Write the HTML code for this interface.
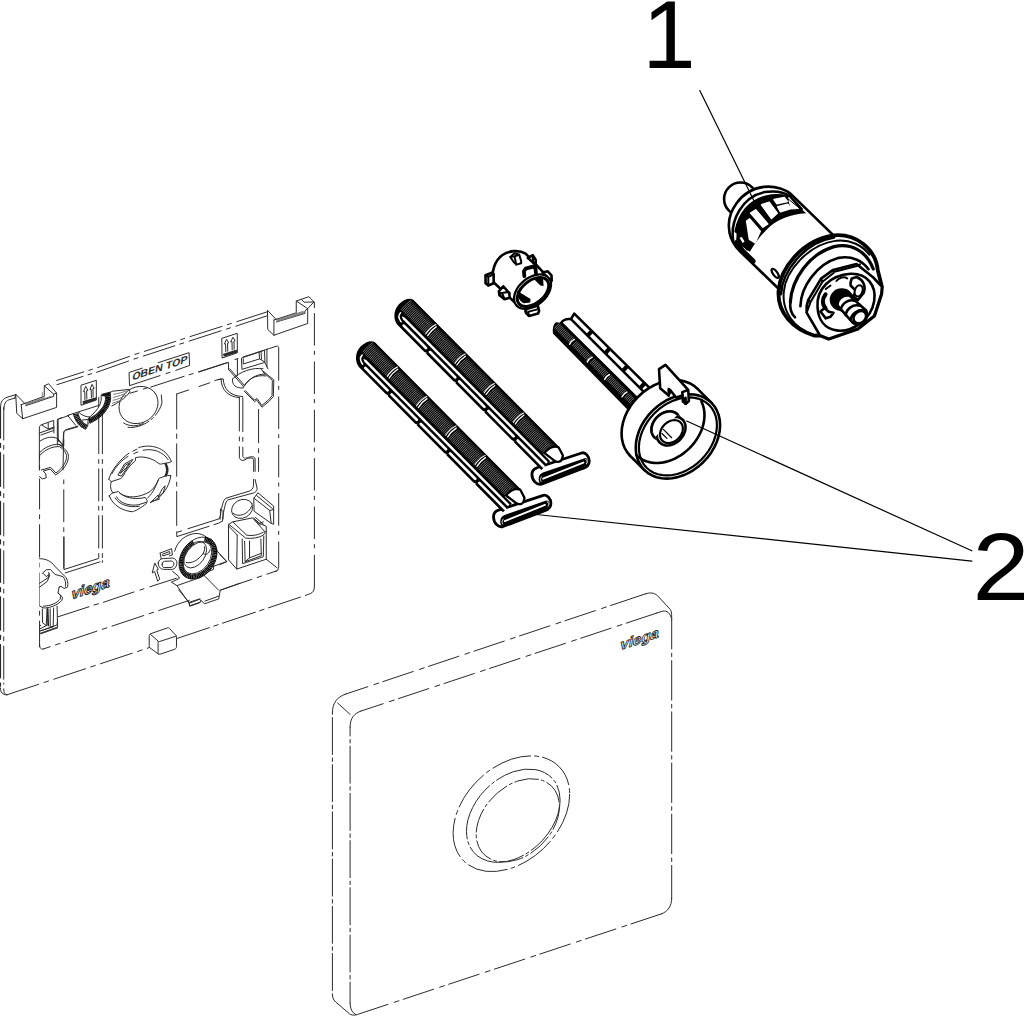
<!DOCTYPE html>
<html><head><meta charset="utf-8"><title>Exploded view</title>
<style>
html,body{margin:0;padding:0;background:#fff;}
body{width:1024px;height:1016px;overflow:hidden;font-family:"Liberation Sans",sans-serif;}
svg{display:block}
svg *{vector-effect:non-scaling-stroke}
.t{fill:none;stroke:#2a2a2a;stroke-width:1;stroke-linecap:round;stroke-linejoin:round}
.tw{fill:#fff;stroke:#2a2a2a;stroke-width:1;stroke-linecap:round;stroke-linejoin:round}
.g{fill:none;stroke:#777;stroke-width:1;stroke-linecap:round;stroke-linejoin:round}
.d{fill:none;stroke:#2a2a2a;stroke-width:1;stroke-dasharray:26 3.5 3 3.5;stroke-linejoin:round}
.m{fill:none;stroke:#000;stroke-width:2;stroke-linecap:round;stroke-linejoin:round}
.mw{fill:#fff;stroke:#000;stroke-width:2;stroke-linecap:round;stroke-linejoin:round}
.h{fill:none;stroke:#000;stroke-width:2.6;stroke-linecap:round;stroke-linejoin:round}
.hw{fill:#fff;stroke:#000;stroke-width:2.6;stroke-linecap:round;stroke-linejoin:round}
.k{fill:#000;stroke:none}
.w{fill:#fff;stroke:none}
.num{font-family:"Liberation Sans",sans-serif;font-size:96px;fill:#000}
</style></head><body>
<svg width="1024" height="1016" viewBox="0 0 1024 1016">
<!-- 10_frame_a.frag -->
<!-- tile [100,300,100] : label + top lines -->
<g transform="translate(100,300) scale(0.098425,0.098425)">
<path class="t" d="M-25 687L300 573M355 553L395 540M450 522L770 420M820 403L860 390M915 372L1240 268M1295 250L1335 238M1390 220L1705 118"/>
<path class="t" d="M-35 735L290 620M345 600L385 588M440 570L760 465M810 448L850 436M905 418L1230 313M1285 295L1325 283M1380 266L1700 160"/>
<!-- label box -->
<path class="t" d="M300 735L430 692M590 637L905 535L910 665L770 715M710 735L670 748M610 768L300 870L295 740"/>
<text transform="matrix(10.1,-3.3,-1.3,10.16,324,818)" x="0" y="0" font-family="Liberation Sans, sans-serif" font-size="10.6" font-weight="bold" textLength="55.4" lengthAdjust="spacingAndGlyphs" style="fill:#2a2a2a;stroke:none">OBEN TOP</text>
<!-- inner top edge dash-dot -->
<path class="t" d="M305 947L380 925M440 905L480 893M515 885L855 775M905 760L945 748M1000 730L1290 637"/>
</g>

<!-- tile [200,290,100] -->
<g transform="translate(200,290) scale(0.098425,0.098425)">
<!-- right tab -->
<path class="tw" d="M686 210L688 400L751 460L1094 340L1094 190L1158 120L1106 68L978 112L978 232L776 297Z"/>
<path class="t" d="M751 305L751 460M776 297L751 305M776 325L1066 238L1066 212L1094 190M978 112L1094 190M1030 95L1058 124L1154 122"/>
<path class="g" d="M780 305L1046 218M783 313L1055 224M786 320L1062 230"/>
<!-- right outer edge dash-dot x=1161.4 (target 314.3) -->
<!-- inner right edge dash-dot x=799.4 (target 278.7) -->
<!-- arrow box -->
<path class="t" d="M225 490L378 440L380 638L228 690Z"/>
<path class="t" d="M262 628L260 547L248 548L270 500L292 537L280 540L282 622M327 608L325 525L312 527L335 480L357 517L345 519L347 602"/>
<path class="t" style="stroke-width:1.6" d="M242 655L368 616M246 668L370 630"/>
<!-- inner top edge + clip housing -->
<path class="t" d="M-10 833L290 735L290 810M355 706L385 698M380 700L380 870"/>
<!-- slot window -->
<path class="t" d="M425 690L655 612L660 735L430 805ZM600 632L605 700L440 752L440 700M605 700L655 730M620 626L625 702"/>
<path class="t" d="M440 680L780 570C795 568 800 578 800 590"/>
<path class="t" d="M680 600L680 780M660 738L690 800M330 905C400 830 540 782 640 800"/>
</g>

<!-- tile [200,370,100] -->
<g transform="translate(200,370) scale(0.098425,0.098425)">
<path class="t" d="M290 -5L440 165M302 -12L448 152"/>
<path class="t" d="M330 92C322 150 365 190 440 182"/>
<path class="t" d="M440 175C480 95 560 45 670 60M452 160C500 90 570 40 660 42"/>
<path class="t" d="M620 -5L700 60L750 100L745 270L700 320L630 378L575 305L555 322L450 215M640 20L705 78L735 105L732 262L690 310L628 360L580 290L552 305L462 210"/>
<path class="t" d="M150 107L215 90C212 200 290 275 400 280M180 98L236 90C240 190 300 262 432 270"/>
<path class="t" d="M-10 168L100 130"/>
<path class="t" d="M400 280V620M400 680V720M400 780V890C410 925 440 925 470 905C500 890 545 890 545 910V1030M435 280V625M435 685V725M435 785V880C450 905 470 895 500 885C540 875 560 885 560 905V1030"/>
<path class="t" d="M595 400V740M595 800V840M595 890V1030"/>
</g>

<!-- right outer / inner edges (target coords) -->
<path class="t" d="M314.4 302.3V307.7"/>
<path class="t" style="stroke-dasharray:32.5 5.2 4 6.65;stroke-linecap:butt" d="M314.4 313.1V586.5"/>
<path class="t" style="stroke-dasharray:32.5 5.2 4 6.65;stroke-linecap:butt" d="M278.7 348.1V566.3"/>

<!-- 12_frame_b.frag -->
<!-- tile [95,430,100] central bayonet ring -->
<g transform="translate(95,430) scale(0.098425,0.098425)">
<path class="t" d="M140 500C160 420 250 300 345 235M385 215L425 195M445 178C560 140 720 170 775 320"/>
<path class="t" d="M172 445C210 370 280 300 335 268M395 240L435 222M490 205C590 185 690 220 742 300"/>
<path class="t" d="M140 500L165 525L262 493L278 478C310 420 360 350 412 310L410 282C480 260 580 285 640 335C655 350 670 348 690 342L760 330L775 320"/>
<path class="t" d="M235 455L300 345L385 298L335 372L270 465ZM258 438L308 358L352 332L318 384Z"/>
<path class="t" style="stroke-width:1.3" d="M722 340C745 380 745 430 722 468M712 345C732 385 732 430 712 462"/>
<path class="t" d="M165 525C150 570 160 615 182 640M250 642C330 700 450 690 560 625C600 590 630 545 645 505"/>
<path class="t" d="M145 670L175 640L240 625L265 650C330 700 430 705 510 685L532 720L522 748C470 790 400 830 380 830C290 825 180 770 145 670ZM220 680C250 740 340 775 440 760L520 735M205 690C240 755 340 792 450 775"/>
<path class="t" d="M770 465L740 460L652 490L640 512C610 600 570 660 535 690M770 465C760 560 690 690 560 738L580 720M712 570L692 640L640 682L682 600ZM580 722L640 662L652 700Z"/>
<!-- left double vertical (left window right edge) -->
<path class="t" d="M38 -330V240M38 300V340M38 395V720M38 775V815M38 870V1200M38 1255V1295"/>
<path class="t" d="M75 -330V240M75 300V340M75 395V720M75 775V815M75 870V1200M75 1255V1295M75 1328V1345"/>
<!-- centre window left edge x=830 -->
<path class="t" d="M830 -365V-10M830 40V85M830 140V470M830 530V570M830 625V970"/>
</g>
<!-- tile [100,390,100] hole -->
<g transform="translate(100,390) scale(0.098425,0.098425)">
<ellipse class="t" cx="392" cy="152" rx="207" ry="180" transform="rotate(-35 392 152)"/>
<path class="t" style="stroke-dasharray:22 3 3 3" d="M285 380C415 392 585 300 630 130L622 40"/>
<path class="t" d="M240 335C300 375 380 370 440 340"/>
<path class="t" d="M780 40L900 0"/>
</g>

<!-- 14_frame_c.frag -->
<!-- tile [55,365,80] top-left knurl + arrow box -->
<g transform="translate(55,365) scale(0.078740,0.078740)">
<!-- extend top double lines to left tab -->
<path class="t" d="M20 197L365 88M430 68L475 54M25 250L355 145M420 124L465 110"/>
<!-- arrow box -->
<path class="t" d="M335 255L525 195L525 445L335 510Z"/>
<path class="t" d="M380 440L378 335L362 338L390 272L418 322L402 326L404 432M462 415L460 310L444 313L470 246L498 297L482 301L484 408"/>
<path class="t" style="stroke-width:1.6" d="M360 468L515 422M362 484L516 438"/>
<!-- recess lines -->
<path class="t" d="M160 640L560 512M160 640L262 765M300 600C340 640 400 662 440 660"/>
<path class="t" d="M30 1016L30 690L85 670M100 1016L110 862C112 842 125 832 140 828L290 785"/>
<!-- ring inner face -->
<path class="tw" d="M585 395C600 470 560 560 440 662L435 712C620 620 690 480 670 385L700 345L600 370Z"/>
<!-- knurl bands -->
<path d="M672 385C692 480 622 622 432 714" style="fill:none;stroke:#000;stroke-width:5.4;stroke-dasharray:1.35 0.3"/>
<path class="t" d="M702 368C730 480 650 642 428 738M640 400C655 500 585 612 440 688"/>
<path class="k" d="M585 395L600 372L700 347L712 372L640 400Z" style="fill:#111"/>
<path d="M262 618C280 700 335 765 402 792" style="fill:none;stroke:#000;stroke-width:4.8;stroke-dasharray:1.3 0.36"/>
<path class="t" d="M232 618C255 715 320 790 390 816L416 770C350 740 305 680 292 610"/>
<path class="t" d="M345 700L420 690L440 662M416 770L420 700"/>
<!-- ridged tab on the right of the ring -->
<path class="t" d="M700 347L735 332L940 310L950 340C900 420 800 480 722 520"/>
<path class="g" d="M745 372C810 362 870 345 905 328M742 410C805 400 865 375 912 348M738 448C795 438 850 412 900 385M730 484C785 470 835 450 872 428"/>
<!-- hole left part handled elsewhere -->
</g>

<!-- 16_frame_d.frag -->
<!-- tile [0,370,100] left tab + corner -->
<g transform="translate(0,370) scale(0.098425,0.098425)">
<!-- corner -->
<path class="t" d="M5 380C5 320 30 292 70 278L160 250"/>
<path class="t" d="M40 400C40 340 60 315 85 305L150 285"/>
<!-- left tab -->
<path class="tw" d="M160 250L170 440L230 495L575 380L575 235L495 140L450 160L450 268L255 338Z"/>
<path class="t" d="M215 352L230 495M255 338L215 352M160 250L150 290M262 362L545 268L545 245L575 235M450 160L545 245"/>
<path class="g" d="M260 345L450 282M262 352L520 268M430 230L430 270"/>
<!-- structures below tab: small window + clip top -->
<path class="t" d="M400 1016L400 590C400 570 410 560 425 555L545 512L548 640M400 640L548 590"/>
<path class="t" d="M425 560L490 600L490 540M490 600L548 580M415 660L545 615"/>
<path class="t" d="M592 725L590 500L700 462M640 1016L648 640C650 620 660 610 680 603L790 570"/>
<!-- clip (upper-left) arcs -->
<path class="t" d="M410 720C470 680 540 670 590 700L645 770"/>
</g>

<!-- tile [0,440,100] left clip + left edges -->
<g transform="translate(0,440) scale(0.098425,0.098425)">
<path class="t" d="M402 130C450 70 540 40 600 45L640 75C680 110 700 140 695 180C690 240 640 310 565 355L510 295L440 315L465 345L470 385L430 395L402 372"/>
<path class="t" d="M410 150C460 95 540 62 605 68L630 85C665 118 680 145 676 180C670 235 625 295 568 335L515 278L420 305"/>
<path class="t" d="M585 -5L640 55M600 45L640 60L640 75"/>
<!-- left outer edges x=3,38 ; period 490 -->
<path class="t" d="M38 -330V0M38 55V95M38 150V490M38 545V585M38 640V975M38 1030V1070M38 1125V1460M38 1515V1555M38 1610V1945M38 2000V2040M38 2095V2430M38 2470V2480"/>
<path class="t" style="stroke-width:1.4" d="M4 -330V-20M4 35V75M4 130V470M4 525V565M4 625V960M4 1015V1055M4 1110V1445M4 1500V1540M4 1595V1930M4 1985V2025M4 2080V2415M4 2470V2500"/>
<!-- inner-left dash-dot x=402 -->
<path class="t" d="M402 150V200M402 260V300M402 395V700M402 760V800M402 860V1190M402 1250V1290M402 1350V1680M402 1740V1780M402 1840V2100"/>
<!-- x=648 -->
<path class="t" d="M648 0V60M648 405V445M648 505V830M648 890V930M648 985V1300"/>
</g>
<!-- tile [0,540,100] lower-left clip + viega -->
<g transform="translate(0,540) scale(0.098425,0.098425)">
<path class="tw" d="M402 190C470 190 520 215 560 270L660 370C690 400 695 450 685 480L650 492L620 470L600 482L590 540L635 580L630 612C590 660 500 695 402 690Z" style="stroke:none"/>
<path class="t" d="M402 190C470 190 520 215 560 270L660 370C690 400 695 450 685 480L650 492L620 470L600 482L590 540L635 580L630 612C590 660 500 695 440 690L402 670"/>
<path class="t" d="M430 340L470 302L512 300L560 350L640 372C665 400 672 440 665 470M442 342L470 372L500 350L495 330M402 440L490 382L500 345M402 480L480 420L505 360M600 482L612 470M590 540L615 560L612 600C580 640 510 672 440 672"/>
<path class="t" d="M430 700L432 840L470 870L478 700M510 700L510 880L540 882L545 690M580 672L585 885L402 950M402 905L470 870M540 882L402 925"/>
<path class="t" style="stroke-width:1.8" d="M484 700L490 868"/>
<path class="t" d="M650 -30V300L1000 188M662 335L1016 222M590 780L905 678M955 660L1000 648"/>
<text transform="matrix(9.7,-3.2,-1.7,10.16,722,604)" x="0" y="0" font-family="Liberation Sans, sans-serif" font-size="15.5" font-weight="bold" style="fill:#fff;stroke:#1a1a1a;stroke-width:1">viega</text>
</g>
<!-- tile [0,620,100] bottom-left corner -->
<g transform="translate(0,620) scale(0.098425,0.098425)">
<path class="t" d="M38 700C38 740 50 758 70 760M4 690C4 735 25 760 70 760"/>
<path class="t" d="M402 250C402 285 415 300 440 295"/>
<path class="t" d="M415 110L580 50L585 -5M415 140L585 80M402 60L415 55"/>
</g>
<!-- long bottom edges (target coords) -->
<path class="t" style="stroke-dasharray:33.5 5.6 4.7 5.5" d="M6.9 694.8L149.5 647.5"/>
<path class="t" style="stroke-dasharray:34.6 4.6 4.6 4.6" d="M176.6 638.6L300.4 597.1"/>
<path class="t" style="stroke-dasharray:33.5 5.6 4.7 5.5;stroke-dashoffset:26.2" d="M43.3 649L189.2 600.4"/>
<path class="t" style="stroke-dasharray:33.5 5.6 4.7 5.5;stroke-dashoffset:0" d="M220.2 590.2L277 570.7"/>

<!-- tile [100,590,100] cube -->
<g transform="translate(100,590) scale(0.098425,0.098425)">
<path class="tw" d="M500 468C500 455 505 448 515 444L685 385C695 382 700 385 705 390L772 462C776 468 777 472 777 480L777 575C777 590 770 598 755 604L610 652C600 655 595 654 588 648L505 585C500 580 500 575 500 570Z"/>
<path class="t" d="M512 450L590 518C595 524 600 526 610 522L775 468M592 522C590 530 590 535 590 545L590 645"/>
<path class="t" d="M35 125L345 20M800 0L905 125L910 160L1016 125M905 125L1016 90"/>
</g>

<!-- 18_frame_e.frag -->
<!-- tile [140,530,100] bottom knurled ring + bracket -->
<g transform="translate(140,530) scale(0.098425,0.098425)">
<!-- housing arc -->
<path class="t" d="M352 215C380 110 470 40 570 35C650 35 720 90 790 220L880 320L740 372"/>
<!-- base plate -->
<path class="t" d="M330 420L392 470L400 492L320 530L375 565L620 480L640 442L745 402L750 362M375 565L500 745L505 775L605 740L620 715L655 750L800 700L815 612L1016 540M640 450L800 612M500 745L600 705L620 715M660 722L800 672"/>
<path class="t" d="M0 610L40 597M100 577L370 490"/>
<!-- ring body -->
<ellipse class="tw" cx="590" cy="285" rx="232" ry="172" transform="rotate(-55 590 285)"/>
<path d="M655.0 96.2 L676.2 100.1 L695.7 107.7 L713.2 118.7 L728.2 133.0 L740.5 150.4 L749.8 170.3 L756.0 192.6 L758.9 216.6 L758.5 242.0 L754.7 268.3 L747.7 294.9 L737.6 321.3 L724.6 346.9 L709.0 371.4 L691.0 394.1 L671.0 414.7 L649.4 432.8 L626.6 447.9 L603.1 459.8 L579.4 468.3 L555.9 473.1 L533.0 474.3 L511.3 471.7 L491.1 465.5 L472.9 455.7 L456.9 442.5 L443.6 426.2 L433.2 407.1 L425.9 385.7 L421.8 362.2 L421.0 337.2 L423.6 311.2 L429.4 284.7 L438.4 258.2 L450.4 232.2 L465.1 207.3 L482.3 183.8 L501.6 162.4 L522.7 143.4 L545.1 127.2" style="fill:none;stroke:#000;stroke-width:4.8;stroke-dasharray:1.4 0.28"/>
<ellipse class="tw" cx="585" cy="282" rx="182" ry="122" transform="rotate(-55 585 282)"/>
<path class="t" d="M470 330C520 345 590 310 640 240C655 215 660 190 655 170M640 240C680 260 700 240 712 200"/>
<ellipse class="t" cx="560" cy="250" rx="150" ry="98" transform="rotate(-55 560 250)"/>
<!-- left tab with hole -->
<path class="tw" d="M185 335C190 305 210 290 240 290L330 285C360 288 375 310 375 340C372 375 350 398 330 400L240 400C205 398 185 370 185 335Z"/>
<path class="t" d="M225 347C228 325 238 320 250 318L318 315C338 318 346 330 344 345C342 368 328 380 315 380L245 382C230 380 223 365 225 347Z"/>
<path class="t" d="M205 235L320 190L330 252L300 262M215 290L205 235M232 245L300 218L305 240L236 262Z"/>
<!-- arrow -->
<path class="t" d="M125 432L150 335L186 400L170 406L200 500L180 520L150 426Z"/>
<!-- box left face -->
<path class="t" d="M900 -5L905 305L990 392L990 60"/>
</g>
<!-- tile [220,480,100] lower-right box, hole, rib -->
<g transform="translate(220,480) scale(0.098425,0.098425)">
<path class="t" d="M597 880C597 910 585 925 560 930M341 -5V55C335 90 320 105 300 112L60 185C30 200 10 300 0 400M357 -5L378 90C372 115 360 125 340 132L80 202C55 215 40 300 25 400"/>
<ellipse class="t" cx="225" cy="293" rx="112" ry="92" transform="rotate(-30 225 293)"/>
<path class="t" d="M135 340C190 385 290 350 322 265"/>
<path class="t" d="M345 185L385 130L545 265L545 450L520 440L350 320ZM345 185L505 310L520 440M372 158L532 290M505 310L545 300"/>
<path class="t" d="M340 385L400 440L470 470L470 520M350 400L410 455M360 380L440 450M400 440L440 425"/>
<!-- box -->
<path class="tw" d="M90 450L130 425L330 385L460 530L470 520L470 805L170 905L90 815Z"/>
<path class="t" d="M90 450L260 590C330 600 400 585 440 560L460 530M130 425L270 560C330 570 390 560 440 530M175 560L170 905M225 600L230 850L440 780L445 570M250 622L255 830L420 770L415 600M255 830L300 790L420 745M300 790L300 620M470 805L580 892M90 470L175 560"/>
<path class="t" d="M0 760L70 830L0 860"/>
</g>
<!-- tile [150,450,100] centre window bottom -->
<g transform="translate(150,450) scale(0.098425,0.098425)">
<path class="t" d="M272 830V880L600 775M650 758L700 742L735 722M280 835L320 822M385 800L700 700C725 670 712 640 716 600M735 722C752 690 738 650 742 612"/>
</g>
<!-- outer bottom-right corner -->
<path class="t" d="M314.4 586.5C314.4 590.5 313 592.5 310.4 593.6L305.3 595.5"/>

<!-- 30_bolts.frag -->
<defs>
<g id="thead"><g transform="translate(485,470) scale(0.078740,0.078740)"><g transform="translate(472,520) scale(0.965) translate(-472,-520)">
 <path class="hw" style="stroke-width:2.8" d="M160 510L750 315C800 300 850 360 850 420C850 470 810 505 760 520L220 725C160 740 95 680 95 600C95 550 120 522 160 510Z"/>
 <path class="k" d="M240 572L790 383C815 378 832 398 827 430C822 470 792 502 762 512L225 718C198 724 183 700 183 660C183 610 208 584 240 572Z"/>
 <path d="M243 653L772 441" style="fill:none;stroke:#fff;stroke-width:1.9;stroke-linecap:round"/>
 <path d="M222 627C205 645 205 675 214 692M800 397C824 402 829 430 814 455" style="fill:none;stroke:#fff;stroke-width:0.8;stroke-linecap:round"/>
</g></g></g>
<g id="shaft" transform="translate(385,385) rotate(45.25) translate(-44.5,0)">
<path class="k" d="M7 -23L214.2 -23Q212 -21.8 210 -19Q207.6 -15.5 207.9 -8.2L207.9 -6.6L218 -6.6L218 5.9L13 5.9C5 4.5 0 -3 0 -10C0 -17 3 -22 7 -23Z"/>
<path d="M5.50 -7.20Q4.40 -14.20 5.80 -21.20M7.18 -7.20Q6.08 -14.20 7.48 -21.20M8.86 -7.20Q7.76 -14.20 9.16 -21.20M10.54 -7.20Q9.44 -14.20 10.84 -21.20M12.22 -7.20Q11.12 -14.20 12.52 -21.20M13.90 -7.20Q12.80 -14.20 14.20 -21.20M15.58 -7.20Q14.48 -14.20 15.88 -21.20M17.26 -7.20Q16.16 -14.20 17.56 -21.20M18.94 -7.20Q17.84 -14.20 19.24 -21.20M20.62 -7.20Q19.52 -14.20 20.92 -21.20M22.30 -7.20Q21.20 -14.20 22.60 -21.20M23.98 -7.20Q22.88 -14.20 24.28 -21.20M25.66 -7.20Q24.56 -14.20 25.96 -21.20M27.34 -7.20Q26.24 -14.20 27.64 -21.20M29.02 -7.20Q27.92 -14.20 29.32 -21.20M30.70 -7.20Q29.60 -14.20 31.00 -21.20M32.38 -7.20Q31.28 -14.20 32.68 -21.20M34.06 -7.20Q32.96 -14.20 34.36 -21.20M35.74 -7.20Q34.64 -14.20 36.04 -21.20M37.42 -7.20Q36.32 -14.20 37.72 -21.20M39.10 -7.20Q38.00 -14.20 39.40 -21.20M44.90 -7.20Q43.80 -14.20 45.20 -21.20M46.58 -7.20Q45.48 -14.20 46.88 -21.20M48.26 -7.20Q47.16 -14.20 48.56 -21.20M49.94 -7.20Q48.84 -14.20 50.24 -21.20M51.62 -7.20Q50.52 -14.20 51.92 -21.20M53.30 -7.20Q52.20 -14.20 53.60 -21.20M54.98 -7.20Q53.88 -14.20 55.28 -21.20M56.66 -7.20Q55.56 -14.20 56.96 -21.20M58.34 -7.20Q57.24 -14.20 58.64 -21.20M60.02 -7.20Q58.92 -14.20 60.32 -21.20M61.70 -7.20Q60.60 -14.20 62.00 -21.20M63.38 -7.20Q62.28 -14.20 63.68 -21.20M65.06 -7.20Q63.96 -14.20 65.36 -21.20M66.74 -7.20Q65.64 -14.20 67.04 -21.20M68.42 -7.20Q67.32 -14.20 68.72 -21.20M70.10 -7.20Q69.00 -14.20 70.40 -21.20M71.78 -7.20Q70.68 -14.20 72.08 -21.20M73.46 -7.20Q72.36 -14.20 73.76 -21.20M75.14 -7.20Q74.04 -14.20 75.44 -21.20M76.82 -7.20Q75.72 -14.20 77.12 -21.20M78.50 -7.20Q77.40 -14.20 78.80 -21.20M80.18 -7.20Q79.08 -14.20 80.48 -21.20M86.40 -7.20Q85.30 -14.20 86.70 -21.20M88.08 -7.20Q86.98 -14.20 88.38 -21.20M89.76 -7.20Q88.66 -14.20 90.06 -21.20M91.44 -7.20Q90.34 -14.20 91.74 -21.20M93.12 -7.20Q92.02 -14.20 93.42 -21.20M94.80 -7.20Q93.70 -14.20 95.10 -21.20M96.48 -7.20Q95.38 -14.20 96.78 -21.20M98.16 -7.20Q97.06 -14.20 98.46 -21.20M99.84 -7.20Q98.74 -14.20 100.14 -21.20M101.52 -7.20Q100.42 -14.20 101.82 -21.20M103.20 -7.20Q102.10 -14.20 103.50 -21.20M104.88 -7.20Q103.78 -14.20 105.18 -21.20M106.56 -7.20Q105.46 -14.20 106.86 -21.20M108.24 -7.20Q107.14 -14.20 108.54 -21.20M109.92 -7.20Q108.82 -14.20 110.22 -21.20M111.60 -7.20Q110.50 -14.20 111.90 -21.20M113.28 -7.20Q112.18 -14.20 113.58 -21.20M114.96 -7.20Q113.86 -14.20 115.26 -21.20M116.64 -7.20Q115.54 -14.20 116.94 -21.20M118.32 -7.20Q117.22 -14.20 118.62 -21.20M120.00 -7.20Q118.90 -14.20 120.30 -21.20M121.68 -7.20Q120.58 -14.20 121.98 -21.20M127.90 -7.20Q126.80 -14.20 128.20 -21.20M129.58 -7.20Q128.48 -14.20 129.88 -21.20M131.26 -7.20Q130.16 -14.20 131.56 -21.20M132.94 -7.20Q131.84 -14.20 133.24 -21.20M134.62 -7.20Q133.52 -14.20 134.92 -21.20M136.30 -7.20Q135.20 -14.20 136.60 -21.20M137.98 -7.20Q136.88 -14.20 138.28 -21.20M139.66 -7.20Q138.56 -14.20 139.96 -21.20M141.34 -7.20Q140.24 -14.20 141.64 -21.20M143.02 -7.20Q141.92 -14.20 143.32 -21.20M144.70 -7.20Q143.60 -14.20 145.00 -21.20M146.38 -7.20Q145.28 -14.20 146.68 -21.20M148.06 -7.20Q146.96 -14.20 148.36 -21.20M149.74 -7.20Q148.64 -14.20 150.04 -21.20M151.42 -7.20Q150.32 -14.20 151.72 -21.20M153.10 -7.20Q152.00 -14.20 153.40 -21.20M154.78 -7.20Q153.68 -14.20 155.08 -21.20M156.46 -7.20Q155.36 -14.20 156.76 -21.20M158.14 -7.20Q157.04 -14.20 158.44 -21.20M159.82 -7.20Q158.72 -14.20 160.12 -21.20M161.50 -7.20Q160.40 -14.20 161.80 -21.20M163.18 -7.20Q162.08 -14.20 163.48 -21.20M169.40 -7.20Q168.30 -14.20 169.70 -21.20M171.08 -7.20Q169.98 -14.20 171.38 -21.20M172.76 -7.20Q171.66 -14.20 173.06 -21.20M174.44 -7.20Q173.34 -14.20 174.74 -21.20M176.12 -7.20Q175.02 -14.20 176.42 -21.20M177.80 -7.20Q176.70 -14.20 178.10 -21.20M179.48 -7.20Q178.38 -14.20 179.78 -21.20M181.16 -7.20Q180.06 -14.20 181.46 -21.20M182.84 -7.20Q181.74 -14.20 183.14 -21.20M184.52 -7.20Q183.42 -14.20 184.82 -21.20M186.20 -7.20Q185.10 -14.20 186.50 -21.20M187.88 -7.20Q186.78 -14.20 188.18 -21.20M189.56 -7.20Q188.46 -14.20 189.86 -21.20M191.24 -7.20Q190.14 -14.20 191.54 -21.20M192.92 -7.20Q191.82 -14.20 193.22 -21.20M194.60 -7.20Q193.50 -14.20 194.90 -21.20M196.28 -7.20Q195.18 -14.20 196.58 -21.20M197.96 -7.20Q196.86 -14.20 198.26 -21.20M199.64 -7.20Q198.54 -14.20 199.94 -21.20M201.32 -7.20Q200.22 -14.20 201.62 -21.20M203.00 -7.20Q201.90 -14.20 203.30 -21.20M204.68 -7.20Q203.58 -14.20 204.98 -21.20M206.36 -7.20Q205.26 -14.20 206.66 -21.20M208.04 -7.20Q206.94 -14.20 208.34 -21.20M209.72 -7.20Q208.62 -14.20 210.02 -21.20" style="fill:none;stroke:#a0a0a0;stroke-width:0.72"/>
<path d="M7 -21.3H213" style="fill:none;stroke:#000;stroke-width:2.6;opacity:.55"/>
<path d="M7 -19H213" style="fill:none;stroke:#000;stroke-width:2.4;opacity:.3"/>
<path class="mw" style="stroke-width:2.3" d="M207.9 -8.2Q207.6 -15.5 210 -19Q212 -21.8 214.2 -22.3L222.9 -19.6Q226.3 -15 224.6 -12.6Q223.2 -10.3 220.5 -9.9Z"/>
<path class="w" d="M10.5 -3.1L13.5 -4.3L217 -4.3L217 -1.9L13.5 -1.9Z"/>
<path d="M14 1.2C9.5 0.6 7.2 -1.5 7.2 -4.8" style="fill:none;stroke:#fff;stroke-width:1.5;stroke-linecap:round"/>
<path d="M18.6 1.95H50.1M55.9 1.95H91.6M97.4 1.95H133.1M138.9 1.95H174.6M180.4 1.95H217.0" style="fill:none;stroke:#fff;stroke-width:2.7;stroke-linecap:round"/>
<path d="M52.0 6.3L54.2 5.2M93.5 6.3L95.7 5.2M135.0 6.3L137.2 5.2M176.5 6.3L178.7 5.2" style="fill:none;stroke:#fff;stroke-width:0.9"/>
<path d="M40.00 -7.7Q38.50 -15 40.50 -21.6" style="fill:none;stroke:#fff;stroke-width:1.05;stroke-linecap:round"/>
<path d="M42.50 -8.0Q41.00 -14 42.30 -20.2" style="fill:none;stroke:#fff;stroke-width:1.35;stroke-linecap:round"/>
<path d="M81.50 -7.7Q80.00 -15 82.00 -21.6" style="fill:none;stroke:#fff;stroke-width:1.05;stroke-linecap:round"/>
<path d="M84.00 -8.0Q82.50 -14 83.80 -20.2" style="fill:none;stroke:#fff;stroke-width:1.35;stroke-linecap:round"/>
<path d="M123.00 -7.7Q121.50 -15 123.50 -21.6" style="fill:none;stroke:#fff;stroke-width:1.05;stroke-linecap:round"/>
<path d="M125.50 -8.0Q124.00 -14 125.30 -20.2" style="fill:none;stroke:#fff;stroke-width:1.35;stroke-linecap:round"/>
<path d="M164.50 -7.7Q163.00 -15 165.00 -21.6" style="fill:none;stroke:#fff;stroke-width:1.05;stroke-linecap:round"/>
<path d="M167.00 -8.0Q165.50 -14 166.80 -20.2" style="fill:none;stroke:#fff;stroke-width:1.35;stroke-linecap:round"/>
</g>
<g id="bolt"><use href="#thead"/><use href="#shaft"/></g>
</defs>
<use href="#bolt"/>
<use href="#bolt" x="38.4" y="-42.4"/>
<!-- 35_bolt3.frag -->
<g transform="translate(545,305) scale(0.108268,0.108268)">
<path class="k" d="M150 165L865 885L770 975L75 265C66 230 75 180 100 160Z"/>
<path d="M88.4 216.4Q105.4 187.4 134.4 170.4M99.3 227.3Q116.3 198.3 145.3 181.3M110.3 238.3Q127.3 209.3 156.3 192.3M121.2 249.2Q138.2 220.2 167.2 203.2M132.2 260.2Q149.2 231.2 178.2 214.2M143.1 271.1Q160.1 242.1 189.1 225.1M154.1 282.1Q171.1 253.1 200.1 236.1M165.0 293.0Q182.0 264.0 211.0 247.0M176.0 304.0Q193.0 275.0 222.0 258.0M186.9 314.9Q203.9 285.9 232.9 268.9M197.9 325.9Q214.9 296.9 243.9 279.9M208.8 336.8Q225.8 307.8 254.8 290.8M219.8 347.8Q236.8 318.8 265.8 301.8M252.6 380.6Q269.6 351.6 298.6 334.6M263.6 391.6Q280.6 362.6 309.6 345.6M274.5 402.5Q291.5 373.5 320.5 356.5M285.5 413.5Q302.5 384.5 331.5 367.5M296.4 424.4Q313.4 395.4 342.4 378.4M307.4 435.4Q324.4 406.4 353.4 389.4M318.3 446.3Q335.3 417.3 364.3 400.3M329.3 457.3Q346.3 428.3 375.3 411.3M340.2 468.2Q357.2 439.2 386.2 422.2M351.2 479.2Q368.2 450.2 397.2 433.2M362.1 490.1Q379.1 461.1 408.1 444.1M373.1 501.1Q390.1 472.1 419.1 455.1M384.0 512.0Q401.0 483.0 430.0 466.0M416.9 544.9Q433.9 515.9 462.9 498.9M427.8 555.8Q444.8 526.8 473.8 509.8M438.8 566.8Q455.8 537.8 484.8 520.8M449.7 577.7Q466.7 548.7 495.7 531.7M460.7 588.7Q477.7 559.7 506.7 542.7M471.6 599.6Q488.6 570.6 517.6 553.6M482.6 610.6Q499.6 581.6 528.6 564.6M493.5 621.5Q510.5 592.5 539.5 575.5M504.5 632.5Q521.5 603.5 550.5 586.5M515.4 643.4Q532.4 614.4 561.4 597.4M526.4 654.4Q543.4 625.4 572.4 608.4M537.3 665.3Q554.3 636.3 583.3 619.3M570.2 698.2Q587.2 669.2 616.2 652.2M581.1 709.1Q598.1 680.1 627.1 663.1M592.1 720.1Q609.1 691.1 638.1 674.1M603.0 731.0Q620.0 702.0 649.0 685.0M614.0 742.0Q631.0 713.0 660.0 696.0M624.9 752.9Q641.9 723.9 670.9 706.9M635.9 763.9Q652.9 734.9 681.9 717.9M646.8 774.8Q663.8 745.8 692.8 728.8M657.8 785.8Q674.8 756.8 703.8 739.8M668.7 796.7Q685.7 767.7 714.7 750.7M679.7 807.7Q696.7 778.7 725.7 761.7M690.6 818.6Q707.6 789.6 736.6 772.6M701.6 829.6Q718.6 800.6 747.6 783.6M734.4 862.4Q751.4 833.4 780.4 816.4M745.4 873.4Q762.4 844.4 791.4 827.4M756.3 884.3Q773.3 855.3 802.3 838.3M767.3 895.3Q784.3 866.3 813.3 849.3M778.2 906.2Q795.2 877.2 824.2 860.2M789.2 917.2Q806.2 888.2 835.2 871.2M800.1 928.1Q817.1 899.1 846.1 882.1M811.1 939.1Q828.1 910.1 857.1 893.1" style="fill:none;stroke:#a0a0a0;stroke-width:0.72"/>
<path d="M227.0 363.0Q240.5 331.5 272.0 318.0" style="fill:none;stroke:#fff;stroke-width:1.5;stroke-linecap:round"/>
<path d="M391.0 527.0Q404.5 495.5 436.0 482.0" style="fill:none;stroke:#fff;stroke-width:1.5;stroke-linecap:round"/>
<path d="M551.0 687.0Q564.5 655.5 596.0 642.0" style="fill:none;stroke:#fff;stroke-width:1.5;stroke-linecap:round"/>
<path d="M712.0 848.0Q725.5 816.5 757.0 803.0" style="fill:none;stroke:#fff;stroke-width:1.5;stroke-linecap:round"/>
<path class="hw" d="M150 165C165 140 200 125 240 130L270 80L975 775L870 880Z"/>
<path class="h" d="M240 130L915 805"/>
<path d="M390 288L432 241" style="fill:none;stroke:#000;stroke-width:4.2"/>
<path d="M555 448L597 401" style="fill:none;stroke:#000;stroke-width:4.2"/>
<path d="M715 613L757 566" style="fill:none;stroke:#000;stroke-width:4.2"/>
<path d="M875 773L917 726" style="fill:none;stroke:#000;stroke-width:4.2"/>
</g>
<g transform="translate(610,360) scale(0.118110,0.118110)">
<path class="hw" d="M739.3 242.7 L765.1 273.4 L785.6 308.4 L800.4 347.2 L809.4 389.0 L812.2 433.2 L809.0 479.0 L799.7 525.6 L784.5 572.3 L763.7 618.1 L737.6 662.4 L706.6 704.4 L671.4 743.4 L632.4 778.6 L590.4 809.6 L546.1 835.7 L500.3 856.5 L453.6 871.7 L407.0 881.0 L361.2 884.2 L317.0 881.4 L275.2 872.4 L236.4 857.6 L201.4 837.1 L170.7 811.3 L144.9 780.6 L124.4 745.6 L109.6 706.8 L100.6 665.0 L97.8 620.8 L101.0 575.0 L110.3 528.4 L125.5 481.7 L146.3 435.9 L172.4 391.6 L203.4 349.6 L238.6 310.6 L277.6 275.4 L319.6 244.4 L363.9 218.3 L409.7 197.5 L456.4 182.3 L503.0 173.0 L548.8 169.8 L593.0 172.6 L634.8 181.6 L673.6 196.4 L708.6 216.9 L739.3 242.7Z"/>
<path class="w" d="M170.7 811.3L290.7 931.3L859.3 362.7L739.3 242.7Z"/>
<path class="h" d="M170.7 811.3L290.7 931.3M859.3 362.7L739.3 242.7"/>
<path class="hw" d="M859.3 362.7 L885.1 393.4 L905.6 428.4 L920.4 467.2 L929.4 509.0 L932.2 553.2 L929.0 599.0 L919.7 645.6 L904.5 692.3 L883.7 738.1 L857.6 782.4 L826.6 824.4 L791.4 863.4 L752.4 898.6 L710.4 929.6 L666.1 955.7 L620.3 976.5 L573.6 991.7 L527.0 1001.0 L481.2 1004.2 L437.0 1001.4 L395.2 992.4 L356.4 977.6 L321.4 957.1 L290.7 931.3 L264.9 900.6 L244.4 865.6 L229.6 826.8 L220.6 785.0 L217.8 740.8 L221.0 695.0 L230.3 648.4 L245.5 601.7 L266.3 555.9 L292.4 511.6 L323.4 469.6 L358.6 430.6 L397.6 395.4 L439.6 364.4 L483.9 338.3 L529.7 317.5 L576.4 302.3 L623.0 293.0 L668.8 289.8 L713.0 292.6 L754.8 301.6 L793.6 316.4 L828.6 336.9 L859.3 362.7Z"/>
<path class="m" style="stroke-width:2.2" d="M840.2 381.8 L863.6 409.9 L882.2 441.9 L895.5 477.5 L903.3 516.0 L905.5 556.7 L902.0 599.0 L892.9 642.1 L878.4 685.3 L858.7 727.8 L834.2 768.9 L805.2 808.0 L772.3 844.3 L736.0 877.2 L696.9 906.2 L655.8 930.7 L613.3 950.4 L570.1 964.9 L527.0 974.0 L484.7 977.5 L444.0 975.3 L405.5 967.5 L369.9 954.2 L337.9 935.6 L309.8 912.2 L286.4 884.1 L267.8 852.1 L254.5 816.5 L246.7 778.0 L244.5 737.3 L248.0 695.0 L257.1 651.9 L271.6 608.7 L291.3 566.2 L315.8 525.1 L344.8 486.0 L377.7 449.7 L414.0 416.8 L453.1 387.8 L494.2 363.3 L536.7 343.6 L579.9 329.1 L623.0 320.0 L665.3 316.5 L706.0 318.7 L744.5 326.5 L780.1 339.8 L812.1 358.4 L840.2 381.8Z"/>
<path class="h" d="M773.9 351.9 L781.0 367.4 L787.0 383.6 L791.9 400.4 L795.6 417.8 L798.2 435.6 L799.6 453.9 L799.8 472.6 L798.9 491.6 L796.8 510.7 L793.5 530.1 L789.0 549.5 L783.4 568.9 L776.7 588.2 L768.9 607.5 L760.0 626.5 L750.1 645.2 L739.2 663.6 L727.4 681.6 L714.6 699.1 L701.0 716.1 L686.5 732.4 L671.3 748.1 L655.4 763.1 L638.9 777.3 L621.7 790.7 L604.1 803.2 L585.9 814.7 L567.4 825.3 L548.6 834.9 L529.5 843.4 L510.2 850.9 L490.8 857.3 L471.4 862.5 L452.0 866.6 L432.7 869.5 L413.6 871.3 L394.8 871.9 L376.2 871.3 L358.0 869.5 L340.3 866.6 L323.1 862.5 L306.5 857.3 L290.5 850.9 L275.2 843.4 L260.7 834.9 L246.9 825.3 L234.1 814.7 L222.1 803.1"/>
<path class="hw" d="M569.9 460.1 L578.6 470.6 L585.6 482.5 L590.6 495.6 L593.7 509.9 L594.6 524.9 L593.5 540.5 L590.3 556.4 L585.1 572.2 L578.0 587.9 L569.1 603.0 L558.6 617.3 L546.5 630.5 L533.3 642.6 L519.0 653.1 L503.9 662.0 L488.2 669.1 L472.4 674.3 L456.5 677.5 L440.9 678.6 L425.9 677.7 L411.6 674.6 L398.5 669.6 L386.6 662.6 L376.1 653.9 L367.4 643.4 L360.4 631.5 L355.4 618.4 L352.3 604.1 L351.4 589.1 L352.5 573.5 L355.7 557.6 L360.9 541.8 L368.0 526.1 L376.9 511.0 L387.4 496.7 L399.5 483.5 L412.7 471.4 L427.0 460.9 L442.1 452.0 L457.8 444.9 L473.6 439.7 L489.5 436.5 L505.1 435.4 L520.1 436.3 L534.4 439.4 L547.5 444.4 L559.4 451.4 L569.9 460.1Z"/>
<path class="w" d="M376 654L421 699L615 505L570 460Z"/>
<path class="hw" d="M614.9 505.1 L623.6 515.6 L630.6 527.5 L635.6 540.6 L638.7 554.9 L639.6 569.9 L638.5 585.5 L635.3 601.4 L630.1 617.2 L623.0 632.9 L614.1 648.0 L603.6 662.3 L591.5 675.5 L578.3 687.6 L564.0 698.1 L548.9 707.0 L533.2 714.1 L517.4 719.3 L501.5 722.5 L485.9 723.6 L470.9 722.7 L456.6 719.6 L443.5 714.6 L431.6 707.6 L421.1 698.9 L412.4 688.4 L405.4 676.5 L400.4 663.4 L397.3 649.1 L396.4 634.1 L397.5 618.5 L400.7 602.6 L405.9 586.8 L413.0 571.1 L421.9 556.0 L432.4 541.7 L444.5 528.5 L457.7 516.4 L472.0 505.9 L487.1 497.0 L502.8 489.9 L518.6 484.7 L534.5 481.5 L550.1 480.4 L565.1 481.3 L579.4 484.4 L592.5 489.4 L604.4 496.4 L614.9 505.1Z"/>
<path class="hw" d="M378.8 656.4 L373.8 651.5 L369.3 646.1 L365.3 640.4 L361.8 634.3 L358.7 627.9 L356.2 621.1 L354.2 614.0 L352.7 606.7 L351.8 599.2 L351.4 591.5 L351.5 583.6 L352.2 575.6 L353.5 567.5 L355.2 559.4 L357.5 551.3 L360.3 543.2 L363.7 535.1 L367.5 527.2 L371.7 519.3 L376.5 511.7 L381.6 504.3 L387.2 497.0 L393.1 490.1 L399.5 483.5 L406.1 477.1 L413.0 471.2 L420.3 465.6 L427.7 460.5 L435.3 455.7 L443.2 451.5 L451.1 447.7 L459.2 444.3 L467.3 441.5 L475.4 439.2 L483.5 437.5 L491.6 436.2 L499.6 435.5 L507.5 435.4 L515.2 435.8 L522.7 436.7 L530.0 438.2 L537.1 440.2 L543.9 442.7 L550.3 445.8 L556.4 449.3 L562.1 453.3 L567.5 457.8 L572.4 462.8"/>
<path class="mw" style="stroke-width:2.2" d="M597.1 528.9 L604.1 537.2 L609.6 546.7 L613.7 557.3 L616.1 568.6 L616.9 580.6 L616.0 593.0 L613.5 605.6 L609.4 618.3 L603.7 630.7 L596.6 642.7 L588.2 654.1 L578.7 664.7 L568.1 674.2 L556.7 682.6 L544.7 689.7 L532.3 695.4 L519.6 699.5 L507.0 702.0 L494.6 702.9 L482.6 702.1 L471.3 699.7 L460.7 695.6 L451.2 690.1 L442.9 683.1 L435.9 674.8 L430.4 665.3 L426.3 654.7 L423.9 643.4 L423.1 631.4 L424.0 619.0 L426.5 606.4 L430.6 593.7 L436.3 581.3 L443.4 569.3 L451.8 557.9 L461.3 547.3 L471.9 537.8 L483.3 529.4 L495.3 522.3 L507.7 516.6 L520.4 512.5 L533.0 510.0 L545.4 509.1 L557.4 509.9 L568.7 512.3 L579.3 516.4 L588.8 521.9 L597.1 528.9Z"/>
<path class="t" style="stroke:#000;stroke-width:1.2" d="M452 588L522 658M440 622L482 664"/>
<path class="hw" d="M415 78L470 42L662 252L668 348L640 372L618 350L614 300L560 318L512 258L497 300L425 240Z"/>
<path class="h" d="M614 300L612 272L660 254M497 300L497 247L512 258M618 350L640 320L640 370"/>
</g>
<!-- 40_nut.frag -->
<g transform="translate(470,240) scale(0.098425,0.098425)">
<!-- body -->
<path class="hw" d="M478 655L245 435C205 330 255 205 330 152C400 105 500 100 565 138L800 388Z"/>
<!-- top lug -->
<path class="mw" d="M410 172L452 135L500 150L520 215L520 236L470 250L440 218Z"/>
<path class="m" d="M410 172L452 165L500 150M452 165L470 250"/>
<!-- left lug -->
<path class="hw" d="M158 358L222 332L240 348L240 440L186 462L158 440Z"/>
<path class="m" d="M158 358L186 374L240 350M186 374L186 462"/>
<!-- bottom-left lug -->
<path class="hw" d="M293 522L338 470L400 540L402 586L350 602L300 562Z"/>
<path class="m" d="M312 540L385 528M312 540L300 562M385 528L400 540M330 548L350 600"/>
<!-- upper right lug -->
<path class="hw" d="M588 182L638 155L667 200L668 262L640 228L600 192Z"/>
<path class="m" d="M638 155L640 228"/>
<!-- right lug -->
<path class="hw" d="M738 330L790 318L828 360L830 415L800 400L760 350Z"/>
<!-- lug on ring upper-left -->
<path d="M552 368L548 318L566 290L640 270L666 290L670 340" style="fill:none;stroke:#000;stroke-width:3.8;stroke-linejoin:round;stroke-linecap:round"/>
<!-- bottom lug -->
<path class="hw" d="M563 722L585 690L690 668L702 720L692 746L600 772L570 742Z"/>
<path class="m" d="M590 730L692 702M590 730L600 772"/>
<!-- front ring -->
<ellipse class="mw" cx="635" cy="525" rx="215" ry="140" transform="rotate(-40 635 525)" style="stroke-width:2.3"/>
<ellipse class="mw" cx="640" cy="528" rx="186" ry="113" transform="rotate(-40 640 528)" style="stroke-width:3"/>
<path class="k" d="M478 515L615 600L612 634L548 642C503 622 476 572 478 515Z"/>
<path class="k" d="M650 398L742 392L748 468L716 462Z"/>
</g>

<!-- 50_cartridge.frag -->
<g id="cartridge">
<g transform="translate(715,170) scale(0.108268,0.108268)">
<!-- nub -->
<circle class="hw" cx="236" cy="268" r="152"/>
<!-- body silhouette -->
<path class="hw" d="M900 1400L240 760L198 715C150 650 130 600 130 540C112 400 230 182 450 156C560 145 660 180 716 236L1400 900Z"/>
<!-- rings at back -->
<path class="h" d="M168 655C138 470 250 246 460 204C550 190 630 200 692 242L800 362"/>
<path class="h" style="stroke-width:3.6" d="M196 565C230 400 330 292 470 251C540 236 610 236 662 252"/>
<path class="m" d="M205 640C225 470 330 330 470 285C540 265 600 262 640 270"/>
<!-- cage / body boundary -->

<!-- dark rib -->
<path style="fill:none;stroke:#000;stroke-width:4.4;stroke-linecap:round" d="M288 440C256 520 256 620 300 722"/>
<path style="fill:none;stroke:#000;stroke-width:3.4;stroke-linecap:round" d="M338 402C310 420 295 436 288 446"/>
<!-- cage band -->
<path class="k" d="M196 565C230 400 330 292 470 251C540 236 610 236 662 252L800 362L842 400C692 411 592 457 512 517C432 587 362 687 322 754L205 675Z"/>
<!-- windows -->
<path d="M545 273L640 253L668 290L572 312Z" style="fill:#fff;stroke:#fff;stroke-width:1.5;stroke-linejoin:round"/>
<path d="M578 339L672 317L702 356L605 386Z" style="fill:#fff;stroke:#fff;stroke-width:1.5;stroke-linejoin:round"/>
<path d="M430 321L500 297L575 398L522 448Z" style="fill:#fff;stroke:#fff;stroke-width:1.5;stroke-linejoin:round"/>
<path d="M328 398L376 368L488 498L443 528Z" style="fill:#fff;stroke:#fff;stroke-width:1.5;stroke-linejoin:round"/>
<path d="M292 472L320 452L418 566L370 672L318 640Z" style="fill:#fff;stroke:#fff;stroke-width:1.5;stroke-linejoin:round"/>
<path class="mw" d="M215 626L248 604L285 660L255 690Z"/>
<path class="mw" d="M205 690L236 720L252 748L226 736Z"/>

<path d="M682 282L772 356L706 360Z" style="fill:#fff;stroke:#fff;stroke-width:1;stroke-linejoin:round"/>
<!-- lower-left shadow band -->
<path style="fill:none;stroke:#000;stroke-width:5;stroke-linecap:round" d="M200 668L252 745L352 842"/>
<!-- small oval -->
<ellipse class="mw" cx="556" cy="955" rx="20" ry="50" transform="rotate(-35 556 955)" style="stroke-width:2.2"/>
</g>
<g transform="translate(775,230) scale(0.118110,0.118110)">
<!-- flange -->
<path class="hw" style="stroke-width:3.8" d="M335 895C150 840 20 700 30 520C40 330 230 80 500 45C680 30 850 150 870 340L905 480L900 542L840 726L700 836L455 921L380 891Z"/>
<path class="h" style="stroke-width:2.4" d="M50 545C62 345 250 105 500 64"/>
<path class="m" d="M250 852C120 780 60 650 75 520C90 350 280 120 520 90C640 80 740 130 800 210"/>
<path class="h" style="stroke-width:3.2" d="M130 610C140 420 290 200 500 141C640 110 770 170 832 330"/>
<path class="h" d="M170 740C130 700 125 650 130 610M215 645C220 480 350 290 540 236C650 215 740 260 792 332"/>
<!-- hex -->
<path class="hw" d="M268 642L282 592L390 412L492 338L690 288L830 400L905 480L900 542L840 726L700 836L455 921L380 891L268 700Z"/>
<path class="m" d="M300 612L402 438L498 362M512 352L700 302L720 290M268 700L300 612M282 592L300 612M390 412L402 438M492 338L498 362"/>
<!-- inner big ellipse -->
<path class="hw" d="M360 650C350 500 470 380 640 370C780 365 860 470 840 600C815 760 650 870 520 850C420 835 365 760 360 650Z"/>
<!-- small parts -->
<path class="m" d="M520 432C540 402 590 390 612 410M430 500L470 470"/>
<path class="hw" d="M640 445L650 410L692 398C742 420 772 470 752 530L702 592L660 560L690 520L640 470Z"/>
<ellipse class="mw" cx="708" cy="515" rx="32" ry="48" transform="rotate(20 708 515)"/>
<path class="hw" d="M385 690L420 660L455 692L495 700L470 735L430 748Z"/>
<path style="fill:none;stroke:#000;stroke-width:4;stroke-linecap:round" d="M428 545C398 582 398 632 428 662"/>
<!-- hole + stem -->
<ellipse class="k" cx="565" cy="590" rx="102" ry="96"/>
<path class="hw" d="M530 640C525 590 570 545 630 555L772 682C792 722 770 782 720 796C690 802 660 790 645 770Z"/>
<path class="h" d="M556 678C566 620 620 585 672 598M598 722C606 664 660 628 712 640M640 762C648 706 704 670 756 680"/>
<ellipse class="hw" cx="718" cy="738" rx="58" ry="47" transform="rotate(-40 718 738)"/>
</g>
</g>

<!-- 60_plate.frag -->
<g id="plate">
<!-- outer edges -->
<path class="t" d="M332.4 712.8C332.4 703 337 697 345.6 694.1"/>
<path class="t" d="M645.7 593.8C650 592.4 654 592.5 657.5 595.7L670.3 609.5C671.5 611 671.7 614 671.7 619.4"/>
<path class="t" d="M671.7 898.1C671.7 906 668 911.5 661.4 913.9"/>
<path class="t" d="M356.4 1014.8C353 1015.5 351 1015 349.5 1013.8L335.7 1002C333 999.5 332.4 997 332.4 994.1"/>
<path class="t" d="M350.1 727C350.1 718 354 713.6 361 711.05"/>
<path class="t" d="M661.4 611.5C665.5 610.2 669 611 671.5 618"/>
<path class="t" d="M337.7 703L350.1 714.4"/>
<path class="t" d="M350.1 1003C350.3 1009 352 1013 356.4 1014.8"/>
<path class="t" style="stroke-dasharray:37 3.5 3.5 3.2;stroke-dashoffset:44" d="M332.4 714.3V994.1"/><path class="t" d="M332.4 712.8V714.3"/>
<path class="t" style="stroke-dasharray:37 3.5 3.5 3.2;stroke-dashoffset:28" d="M350.1 727V1003"/>
<path class="t" style="stroke-dasharray:32 4.5 5 6.5" d="M640.9 595.4L345.6 694.1"/><path class="t" d="M640.9 595.4L645.7 593.8"/>
<path class="t" style="stroke-dasharray:32 4.5 5 6.5" d="M656.6 613.1L361 711.05"/><path class="t" d="M656.6 613.1L661.4 611.5"/>
<path class="t" style="stroke-dasharray:39.5 4.3 3.5 3.9;stroke-dashoffset:10" d="M671.7 619.4V898.1"/>
<path class="t" style="stroke-dasharray:32 4.5 5 6.5;stroke-dashoffset:0" d="M661.4 913.9L356.4 1014.8"/>
<!-- button ellipses -->
<circle class="t" r="1" transform="matrix(58.3,-19.4,0,54.5,511.4,813.7)" style="stroke-dasharray:40 4 4 4"/>
<circle class="t" r="1" transform="matrix(46.8,-15.6,0,44,513.3,815.7)" style="stroke-dasharray:60 3 3 3"/>
<circle class="t" r="1" transform="matrix(41.6,-13.9,0,39.3,517.8,820.3)" style="stroke-dasharray:24 3 3 3"/>
<!-- viega -->
<text transform="matrix(1,-0.333,-0.17,1,619.8,650.3)" x="0" y="0" font-family="Liberation Sans, sans-serif" font-size="15" font-weight="bold" style="fill:#fff;stroke:#222;stroke-width:0.9">viega</text>
</g>

<!-- 90_labels.frag -->
<text class="num" x="642.3" y="68.1">1</text>
<text class="num" transform="translate(972.4,599.8) scale(1.07,1)" x="0" y="0">2</text>
<path class="t" style="stroke:#000;stroke-width:1.2" d="M699.8 90.6L758 209M686.7 421L971.8 550.8M536.5 514.5L971.8 561.2"/>

</svg>
</body></html>
